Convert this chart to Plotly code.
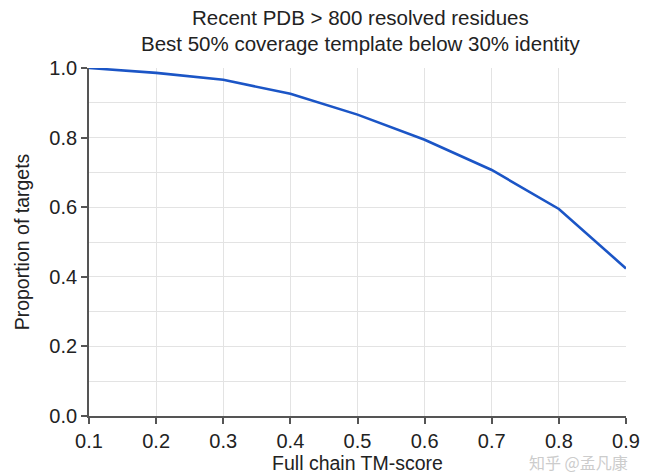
import plotly.graph_objects as go

tm_score = [0.1, 0.2, 0.3, 0.4, 0.5, 0.6, 0.7, 0.8, 0.9]
proportion = [1.0, 0.986, 0.966, 0.926, 0.866, 0.794, 0.707, 0.595, 0.424]

x_ticks = [0.1, 0.2, 0.3, 0.4, 0.5, 0.6, 0.7, 0.8, 0.9]
x_labels = ["0.1", "0.2", "0.3", "0.4", "0.5", "0.6", "0.7", "0.8", "0.9"]
y_ticks = [0.0, 0.2, 0.4, 0.6, 0.8, 1.0]
y_labels = ["0.0", "0.2", "0.4", "0.6", "0.8", "1.0"]

title_lines = ["Recent PDB > 800 resolved residues",
               "Best 50% coverage template below 30% identity"]
font_family = "Liberation Sans, Arial, Helvetica, sans-serif"

fig = go.Figure()
fig.add_trace(go.Scatter(
    x=tm_score, y=proportion, mode="lines",
    line=dict(color="#1b55c6", width=2.6),
    showlegend=False, hoverinfo="skip",
))

fig.update_layout(
    width=646, height=475,
    margin=dict(l=89, r=20, t=68, b=59, autoexpand=False),
    paper_bgcolor="white", plot_bgcolor="white",
    font=dict(family=font_family, size=20, color="#222222"),
    xaxis=dict(
        range=[0.1, 0.9], tickvals=x_ticks, ticktext=x_labels,
        showgrid=True, gridcolor="#e3e3e3", gridwidth=1.2,
        showline=True, linecolor="#555555", linewidth=1.8,
        ticks="outside", ticklen=6, tickcolor="#555555", tickwidth=1.5,
        zeroline=False, automargin=False,
        title=dict(text="Full chain TM-score", font=dict(size=19.5), standoff=4),
    ),
    yaxis=dict(
        range=[0, 1.0], tickvals=y_ticks, ticktext=y_labels,
        showgrid=True, gridcolor="#e3e3e3", gridwidth=1.2,
        minor=dict(dtick=0.1, showgrid=True, gridcolor="#e3e3e3", gridwidth=1.2),
        showline=True, linecolor="#555555", linewidth=1.8,
        ticks="outside", ticklen=6, tickcolor="#555555", tickwidth=1.5,
        zeroline=False, automargin=False,
        title=dict(text="Proportion of targets", font=dict(size=19.5), standoff=14),
    ),
)

for line_text, ypos in zip(title_lines, [1.144, 1.069]):
    fig.add_annotation(
        text=line_text, xref="paper", yref="paper",
        x=0.505, y=ypos, xanchor="center", yanchor="middle",
        showarrow=False, font=dict(size=20.5, color="#222222"),
    )

fig.add_annotation(
    text="知乎 @孟凡康", xref="paper", yref="paper",
    x=(527 - 89) / 537, y=-0.133, xanchor="left", yanchor="middle", showarrow=False,
    font=dict(family="Noto Sans CJK SC", size=16, color="#cccccc"),
)

fig.write_html("out.html")
